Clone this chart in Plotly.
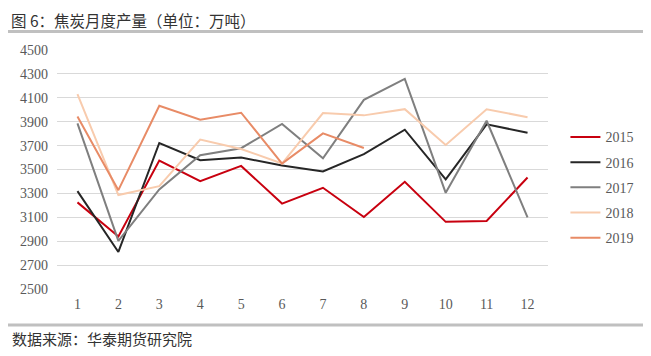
import plotly.graph_objects as go

months = ["1", "2", "3", "4", "5", "6", "7", "8", "9", "10", "11", "12"]
y2015 = [3225, 2940, 3575, 3402, 3530, 3215, 3347, 3103, 3397, 3062, 3070, 3433]
y2016 = [3319, 2810, 3722, 3578, 3600, 3533, 3483, 3628, 3833, 3417, 3878, 3808]
y2017 = [3886, 2903, 3333, 3619, 3678, 3881, 3594, 4083, 4258, 3305, 3908, 3100]
y2018 = [4130, 3286, 3361, 3750, 3672, 3550, 3972, 3953, 4005, 3705, 4004, 3938]
y2019 = [3944, 3327, 4033, 3917, 3975, 3550, 3802, 3680]
years = ["2015", "2016", "2017", "2018", "2019"]
series = [y2015, y2016, y2017, y2018, y2019]
colors = ["#C8000F", "#262626", "#7F7F7F", "#F8CBAD", "#E88B66"]
yticks = [2500, 2700, 2900, 3100, 3300, 3500, 3700, 3900, 4100, 4300, 4500]

fig = go.Figure()
for name, vals, c in zip(years, series, colors):
    fig.add_trace(go.Scatter(
        x=months[:len(vals)], y=vals, mode="lines", name=name,
        line=dict(color=c, width=2), legendgroup=name,
    ))

# the page body has an 8px margin, so the figure is laid out in page coords minus 8
OFF = 8
W, H = 651 - OFF, 356 - OFF
L, R, T, B = 55 - OFF, 651 - 548, 49.5 - OFF, 356 - 289
pw, ph = W - L - R, H - T - B

def px(x):
    return (x - OFF - L) / pw

def py(y):
    return (H - B - (y - OFF)) / ph

fig.update_layout(
    width=W, height=H,
    margin=dict(l=L, r=R, t=T, b=B),
    plot_bgcolor="white", paper_bgcolor="white",
    showlegend=True,
    legend=dict(x=px(565.5), y=py(121), xanchor="left", yanchor="top",
                font=dict(family="Liberation Serif", size=14, color="#595959"),
                tracegroupgap=4, bgcolor="rgba(0,0,0,0)"),
    xaxis=dict(type="category", range=[-0.5, 11.5], showgrid=False, zeroline=False,
               showline=False, ticks="", ticklabelstandoff=5,
               tickfont=dict(family="Liberation Serif", size=14, color="#595959")),
    yaxis=dict(range=[2500, 4500], tickvals=yticks, showgrid=True, gridcolor="#D9D9D9",
               gridwidth=1, zeroline=False, showline=False, ticks="", ticklabelstandoff=8,
               tickfont=dict(family="Liberation Serif", size=14, color="#595959")),
    shapes=[
        dict(type="line", xref="paper", yref="paper", x0=px(0), x1=px(660), y0=py(31), y1=py(31),
             line=dict(color="#C0C0C0", width=3)),
        dict(type="line", xref="paper", yref="paper", x0=px(0), x1=px(660), y0=py(325), y1=py(325),
             line=dict(color="#C0C0C0", width=3)),
    ],
    annotations=[
        dict(text="图 6：焦炭月度产量（单位：万吨）", xref="paper", yref="paper",
             x=px(8), y=py(8.5), xanchor="left", yanchor="top", showarrow=False,
             height=19, valign="middle", borderpad=0,
             font=dict(family="Noto Sans CJK SC", size=15.5, color="#333333")),
        dict(text="数据来源：华泰期货研究院", xref="paper", yref="paper",
             x=px(8), y=py(339), xanchor="left", yanchor="middle", showarrow=False,
             font=dict(family="Noto Sans CJK SC", size=15, color="#333333")),
    ],
)

fig.write_html("out.html")
